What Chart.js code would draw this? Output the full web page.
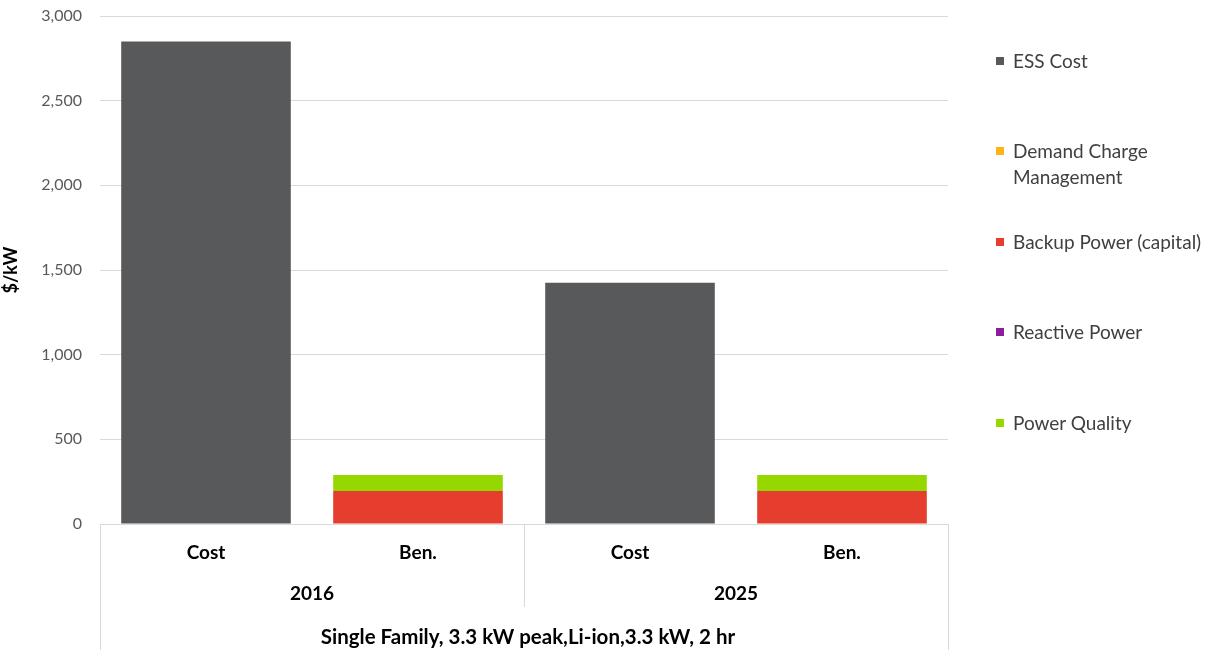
<!DOCTYPE html>
<html>
<head>
<meta charset="utf-8">
<script src="https://cdn.jsdelivr.net/npm/chart.js@4/dist/chart.umd.min.js"></script>
<style>
  html, body { margin: 0; padding: 0; background: #fff; }
  #wrap { position: relative; width: 1209px; height: 650px; }
  #legend { position: absolute; left: 996px; top: 0; font-family: Lato, sans-serif; font-size: 19px; color: #404040; }
  .item { position: absolute; left: 0; width: 220px; line-height: 26px; white-space: nowrap; }
  .item .sw { position: absolute; left: 0; top: 9px; width: 8px; height: 8px; }
  .item .tx { margin-left: 17px; display: block; }
</style>
</head>
<body>
<div id="wrap">
  <canvas id="c" width="1209" height="650"></canvas>
  <div id="legend"></div>
</div>
<script>
// categories (two-level axis)
const barLabels = ['Cost', 'Ben.', 'Cost', 'Ben.'];
const groups = ['2016', '2025'];
const caseLabel = 'Single Family, 3.3 kW peak,Li-ion,3.3 kW, 2 hr';

// series values, $/kW
const essCost     = [2850, 0, 1425, 0];
const demandCharge = [0, 0, 0, 0];
const backupPower = [0, 195, 0, 195];
const reactivePower = [0, 0, 0, 0];
const powerQuality = [0, 95, 0, 95];

const seriesNames  = ['ESS Cost', 'Demand Charge Management', 'Backup Power (capital)', 'Reactive Power', 'Power Quality'];
const seriesColors = ['#58595b', '#fdb515', '#e53e2f', '#8b1c9c', '#97d700'];
const yTicks = [0, 500, 1000, 1500, 2000, 2500, 3000];

const fmt = new Intl.NumberFormat('en-US');
const FONT = 'Lato, sans-serif';

// draws the grouped category labels under the plot
const multiAxis = {
  id: 'multiAxis',
  afterDraw (chart) {
    const ctx = chart.ctx;
    const x = chart.scales.x;
    const a = chart.chartArea;
    ctx.save();
    ctx.strokeStyle = '#d9d9d9';
    ctx.lineWidth = 1;
    const half = (x.getPixelForValue(1) - x.getPixelForValue(0)) / 2;
    const seps = [
      [x.getPixelForValue(0) - half, 650],
      [x.getPixelForValue(1) + half, 607],
      [x.getPixelForValue(3) + half, 650]
    ];
    seps.forEach(([px, bottom]) => {
      ctx.beginPath();
      ctx.moveTo(Math.round(px) + 0.5, a.bottom);
      ctx.lineTo(Math.round(px) + 0.5, bottom);
      ctx.stroke();
    });
    ctx.fillStyle = '#000';
    ctx.textAlign = 'center';
    ctx.textBaseline = 'middle';
    ctx.font = 'bold 19px ' + FONT;
    barLabels.forEach((l, i) => ctx.fillText(l, x.getPixelForValue(i), a.bottom + 29));
    groups.forEach((g, i) => {
      const mid = (x.getPixelForValue(i * 2) + x.getPixelForValue(i * 2 + 1)) / 2;
      ctx.fillText(g, mid, a.bottom + 70);
    });
    ctx.font = 'bold 20.5px ' + FONT;
    ctx.fillText(caseLabel, (a.left + a.right) / 2 + 4, a.bottom + 113);
    ctx.restore();
  }
};

const series = [essCost, demandCharge, backupPower, reactivePower, powerQuality];
const datasets = series.map((d, i) => ({
  label: seriesNames[i],
  data: d,
  backgroundColor: seriesColors[i],
  borderWidth: 0,
  stack: 's'
}));

new Chart(document.getElementById('c'), {
  type: 'bar',
  data: { labels: barLabels, datasets },
  options: {
    responsive: false,
    animation: false,
    layout: { padding: { top: 16, right: 261, bottom: 126, left: 0 } },
    datasets: { bar: { categoryPercentage: 0.8, barPercentage: 1 } },
    plugins: { legend: { display: false }, tooltip: { enabled: false } },
    scales: {
      x: {
        stacked: true,
        display: false
      },
      y: {
        stacked: true,
        min: 0,
        max: 3000,
        afterFit (s) { s.width = 100; },
        afterBuildTicks (s) { s.ticks = yTicks.map(v => ({ value: v })); },
        border: { display: false },
        grid: { color: '#d9d9d9', drawTicks: true, tickLength: 18, tickColor: 'rgba(0,0,0,0)' },
        ticks: {
          padding: 0,
          color: '#595959',
          font: { family: FONT, size: 16 },
          callback: v => fmt.format(v)
        },
        title: {
          display: true,
          text: '$/kW',
          color: '#000',
          font: { family: FONT, size: 18, weight: 'bold' },
          padding: 0
        }
      }
    }
  },
  plugins: [multiAxis]
});

// legend on the right
const legendTops = [48, 138, 229, 319, 410];
const lg = document.getElementById('legend');
seriesNames.forEach((name, i) => {
  const it = document.createElement('div');
  it.className = 'item';
  it.style.top = legendTops[i] + 'px';
  it.innerHTML = `<span class="sw" style="background:${seriesColors[i]}"></span><span class="tx">${name.replace('Charge Management', 'Charge<br>Management')}</span>`;
  lg.appendChild(it);
});
</script>
</body>
</html>
